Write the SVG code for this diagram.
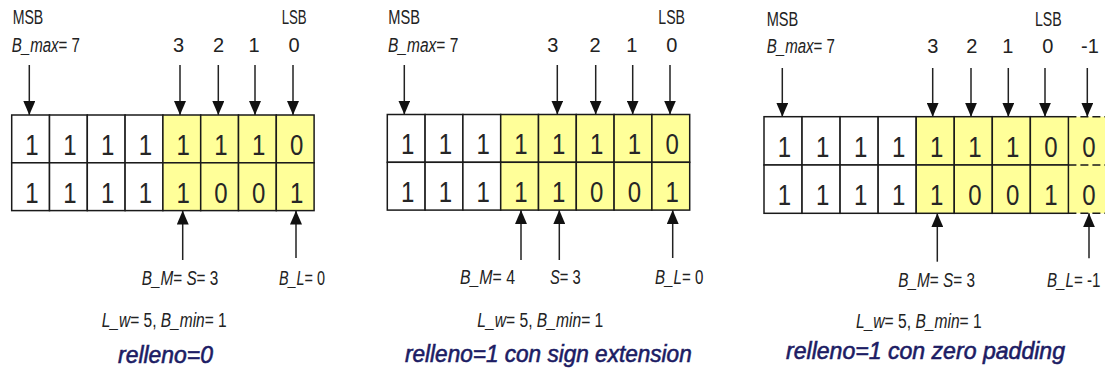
<svg xmlns="http://www.w3.org/2000/svg" width="1105" height="370" viewBox="0 0 1105 370">
  <style>
    .cell { fill: #ffffff; stroke: #1a1a1a; stroke-width: 1.5; }
    .hl { fill: #ffff99; stroke: #1a1a1a; stroke-width: 1.5; }
    .pad { fill: #ffff99; stroke: none; }
    .dash { stroke: #1a1a1a; stroke-width: 1.5; stroke-dasharray: 8 4; fill: none; }
    .bit { font-family: "Liberation Sans", Arial, sans-serif; font-size: 30px; fill: #262626; text-anchor: middle; }
    .lbl { font-family: "Liberation Sans", Arial, sans-serif; font-size: 20px; fill: #222; }
    .idx { font-family: "Liberation Sans", Arial, sans-serif; font-size: 20px; fill: #222; text-anchor: middle; }
    .it { font-style: italic; }
    .cap { font-family: "Liberation Sans", Arial, sans-serif; font-size: 24px; font-style: italic; fill: #1c1c64; stroke: #1c1c64; stroke-width: 0.6; }
    .arr { stroke: #222; stroke-width: 1.5; fill: none; marker-end: url(#head); }
  </style>
  <defs>
    <marker id="head" viewBox="0 0 14 12" refX="14" refY="6" markerWidth="14" markerHeight="12" markerUnits="userSpaceOnUse" orient="auto">
      <path d="M0,0 L14,6 L0,12 z" fill="#111"/>
    </marker>
  </defs>

  <!-- register 1: relleno=0 -->
  <g id="reg1">
    <rect class="cell" x="11.7" y="115" width="37.8" height="47.8"/>
    <rect class="cell" x="49.5" y="115" width="37.8" height="47.8"/>
    <rect class="cell" x="87.3" y="115" width="37.8" height="47.8"/>
    <rect class="cell" x="125.1" y="115" width="37.8" height="47.8"/>
    <rect class="hl" x="162.9" y="115" width="37.8" height="47.8"/>
    <rect class="hl" x="200.7" y="115" width="37.8" height="47.8"/>
    <rect class="hl" x="238.5" y="115" width="37.8" height="47.8"/>
    <rect class="hl" x="276.3" y="115" width="37.8" height="47.8"/>
    <rect class="cell" x="11.7" y="162.8" width="37.8" height="47.8"/>
    <rect class="cell" x="49.5" y="162.8" width="37.8" height="47.8"/>
    <rect class="cell" x="87.3" y="162.8" width="37.8" height="47.8"/>
    <rect class="cell" x="125.1" y="162.8" width="37.8" height="47.8"/>
    <rect class="hl" x="162.9" y="162.8" width="37.8" height="47.8"/>
    <rect class="hl" x="200.7" y="162.8" width="37.8" height="47.8"/>
    <rect class="hl" x="238.5" y="162.8" width="37.8" height="47.8"/>
    <rect class="hl" x="276.3" y="162.8" width="37.8" height="47.8"/>
    <!-- digits drawn in a horizontally condensed space (x values are divided by 0.8) -->
    <g transform="scale(0.8,1)">
      <text class="bit" y="155"><tspan x="40">1</tspan><tspan x="87.3">1</tspan><tspan x="134.5">1</tspan><tspan x="181.8">1</tspan><tspan x="229">1</tspan><tspan x="276.3">1</tspan><tspan x="323.5">1</tspan><tspan x="370.8">0</tspan></text>
      <text class="bit" y="203"><tspan x="40">1</tspan><tspan x="87.3">1</tspan><tspan x="134.5">1</tspan><tspan x="181.8">1</tspan><tspan x="229">1</tspan><tspan x="276.3">0</tspan><tspan x="323.5">0</tspan><tspan x="370.8">1</tspan></text>
    </g>
  </g>

  <!-- register 2: relleno=1, sign extension -->
  <g id="reg2">
    <rect class="cell" x="387.3" y="114.5" width="37.8" height="47.8"/>
    <rect class="cell" x="425.1" y="114.5" width="37.8" height="47.8"/>
    <rect class="cell" x="462.9" y="114.5" width="37.8" height="47.8"/>
    <rect class="hl" x="500.7" y="114.5" width="37.8" height="47.8"/>
    <rect class="hl" x="538.5" y="114.5" width="37.8" height="47.8"/>
    <rect class="hl" x="576.3" y="114.5" width="37.8" height="47.8"/>
    <rect class="hl" x="614.1" y="114.5" width="37.8" height="47.8"/>
    <rect class="hl" x="651.9" y="114.5" width="37.8" height="47.8"/>
    <rect class="cell" x="387.3" y="162.3" width="37.8" height="47.8"/>
    <rect class="cell" x="425.1" y="162.3" width="37.8" height="47.8"/>
    <rect class="cell" x="462.9" y="162.3" width="37.8" height="47.8"/>
    <rect class="hl" x="500.7" y="162.3" width="37.8" height="47.8"/>
    <rect class="hl" x="538.5" y="162.3" width="37.8" height="47.8"/>
    <rect class="hl" x="576.3" y="162.3" width="37.8" height="47.8"/>
    <rect class="hl" x="614.1" y="162.3" width="37.8" height="47.8"/>
    <rect class="hl" x="651.9" y="162.3" width="37.8" height="47.8"/>
    <g transform="scale(0.8,1)">
      <text class="bit" y="154.5"><tspan x="509.5">1</tspan><tspan x="556.8">1</tspan><tspan x="604">1</tspan><tspan x="651.3">1</tspan><tspan x="698.5">1</tspan><tspan x="745.8">1</tspan><tspan x="793">1</tspan><tspan x="840.3">0</tspan></text>
      <text class="bit" y="202.5"><tspan x="509.5">1</tspan><tspan x="556.8">1</tspan><tspan x="604">1</tspan><tspan x="651.3">1</tspan><tspan x="698.5">1</tspan><tspan x="745.8">0</tspan><tspan x="793">0</tspan><tspan x="840.3">1</tspan></text>
    </g>
  </g>

  <!-- register 3: relleno=1, zero padding (extra bit -1, open on the right) -->
  <g id="reg3">
    <rect class="pad" x="1068.4" y="116.7" width="40" height="96.6"/>
    <path class="dash" d="M1068.4,116.7 H1106 M1068.4,165 H1106 M1068.4,213.3 H1106"/>
    <rect class="cell" x="764" y="116.7" width="38.05" height="48.3"/>
    <rect class="cell" x="802.05" y="116.7" width="38.05" height="48.3"/>
    <rect class="cell" x="840.1" y="116.7" width="38.05" height="48.3"/>
    <rect class="cell" x="878.15" y="116.7" width="38.05" height="48.3"/>
    <rect class="hl" x="916.2" y="116.7" width="38.05" height="48.3"/>
    <rect class="hl" x="954.25" y="116.7" width="38.05" height="48.3"/>
    <rect class="hl" x="992.3" y="116.7" width="38.05" height="48.3"/>
    <rect class="hl" x="1030.35" y="116.7" width="38.05" height="48.3"/>
    <rect class="cell" x="764" y="165" width="38.05" height="48.3"/>
    <rect class="cell" x="802.05" y="165" width="38.05" height="48.3"/>
    <rect class="cell" x="840.1" y="165" width="38.05" height="48.3"/>
    <rect class="cell" x="878.15" y="165" width="38.05" height="48.3"/>
    <rect class="hl" x="916.2" y="165" width="38.05" height="48.3"/>
    <rect class="hl" x="954.25" y="165" width="38.05" height="48.3"/>
    <rect class="hl" x="992.3" y="165" width="38.05" height="48.3"/>
    <rect class="hl" x="1030.35" y="165" width="38.05" height="48.3"/>
    <g transform="scale(0.8,1)">
      <text class="bit" y="157"><tspan x="980.6">1</tspan><tspan x="1028.3">1</tspan><tspan x="1075.8">1</tspan><tspan x="1123.4">1</tspan><tspan x="1170.9">1</tspan><tspan x="1218.5">1</tspan><tspan x="1266">1</tspan><tspan x="1313.6">0</tspan><tspan x="1361.1">0</tspan></text>
      <text class="bit" y="205.3"><tspan x="980.6">1</tspan><tspan x="1028.3">1</tspan><tspan x="1075.8">1</tspan><tspan x="1123.4">1</tspan><tspan x="1170.9">1</tspan><tspan x="1218.5">0</tspan><tspan x="1266">0</tspan><tspan x="1313.6">1</tspan><tspan x="1361.1">0</tspan></text>
    </g>
  </g>

  <!-- bit pointers -->
  <g id="connectors">
    <line class="arr" x1="29.3" y1="65" x2="29.3" y2="115"/>
    <line class="arr" x1="180" y1="65" x2="180" y2="115"/>
    <line class="arr" x1="218.3" y1="65" x2="218.3" y2="115"/>
    <line class="arr" x1="255" y1="65" x2="255" y2="115"/>
    <line class="arr" x1="293" y1="65" x2="293" y2="115"/>
    <line class="arr" x1="182.7" y1="260" x2="182.7" y2="210.6"/>
    <line class="arr" x1="296" y1="258" x2="296" y2="210.6"/>

    <line class="arr" x1="404.3" y1="65" x2="404.3" y2="114.5"/>
    <line class="arr" x1="557.3" y1="65" x2="557.3" y2="114.5"/>
    <line class="arr" x1="595.7" y1="65" x2="595.7" y2="114.5"/>
    <line class="arr" x1="632.7" y1="65" x2="632.7" y2="114.5"/>
    <line class="arr" x1="670" y1="65" x2="670" y2="114.5"/>
    <line class="arr" x1="521" y1="260" x2="521" y2="210.1"/>
    <line class="arr" x1="559.3" y1="260" x2="559.3" y2="210.1"/>
    <line class="arr" x1="672.7" y1="258" x2="672.7" y2="210.1"/>

    <line class="arr" x1="782.3" y1="68" x2="782.3" y2="116.7"/>
    <line class="arr" x1="932.7" y1="68" x2="932.7" y2="116.7"/>
    <line class="arr" x1="971" y1="68" x2="971" y2="116.7"/>
    <line class="arr" x1="1008.3" y1="68" x2="1008.3" y2="116.7"/>
    <line class="arr" x1="1045" y1="68" x2="1045" y2="116.7"/>
    <line class="arr" x1="1087.3" y1="68" x2="1087.3" y2="116.7"/>
    <line class="arr" x1="937.3" y1="261.7" x2="937.3" y2="213.3"/>
    <line class="arr" x1="1089" y1="258.3" x2="1089" y2="213.3"/>
  </g>

  <!-- labels, register 1 -->
  <g id="labels1">
    <text class="lbl" x="12.7" y="24" textLength="30.6" lengthAdjust="spacingAndGlyphs">MSB</text>
    <text class="lbl" x="11.7" y="51.7" textLength="68.3" lengthAdjust="spacingAndGlyphs"><tspan class="it">B_max</tspan>= 7</text>
    <text class="lbl" x="281.7" y="24" textLength="25" lengthAdjust="spacingAndGlyphs">LSB</text>
    <text class="idx" y="51.7"><tspan x="178.5">3</tspan><tspan x="218.5">2</tspan><tspan x="254">1</tspan><tspan x="294">0</tspan></text>
    <text class="lbl" x="141.7" y="285" textLength="76.6" lengthAdjust="spacingAndGlyphs"><tspan class="it">B_M</tspan>= <tspan class="it">S</tspan>= 3</text>
    <text class="lbl" x="279" y="285" textLength="46" lengthAdjust="spacingAndGlyphs"><tspan class="it">B_L</tspan>= 0</text>
    <text class="lbl" x="101.7" y="327" textLength="125" lengthAdjust="spacingAndGlyphs"><tspan class="it">L_w</tspan>= 5, <tspan class="it">B_min</tspan>= 1</text>
    <text class="cap" x="118" y="363" textLength="95" lengthAdjust="spacingAndGlyphs">relleno=0</text>
  </g>

  <!-- labels, register 2 -->
  <g id="labels2">
    <text class="lbl" x="388.3" y="24" textLength="31.7" lengthAdjust="spacingAndGlyphs">MSB</text>
    <text class="lbl" x="388" y="51.7" textLength="70.3" lengthAdjust="spacingAndGlyphs"><tspan class="it">B_max</tspan>= 7</text>
    <text class="lbl" x="658.3" y="24" textLength="26.7" lengthAdjust="spacingAndGlyphs">LSB</text>
    <text class="idx" y="51.7"><tspan x="552.7">3</tspan><tspan x="595">2</tspan><tspan x="631.7">1</tspan><tspan x="671.7">0</tspan></text>
    <text class="lbl" x="460" y="284.3" textLength="55" lengthAdjust="spacingAndGlyphs"><tspan class="it">B_M</tspan>= 4</text>
    <text class="lbl" x="550" y="284.3" textLength="30.7" lengthAdjust="spacingAndGlyphs"><tspan class="it">S</tspan>= 3</text>
    <text class="lbl" x="655" y="284.3" textLength="48.3" lengthAdjust="spacingAndGlyphs"><tspan class="it">B_L</tspan>= 0</text>
    <text class="lbl" x="477.3" y="326.7" textLength="126" lengthAdjust="spacingAndGlyphs"><tspan class="it">L_w</tspan>= 5, <tspan class="it">B_min</tspan>= 1</text>
    <text class="cap" x="405" y="361.5" textLength="286.7" lengthAdjust="spacingAndGlyphs">relleno=1 con sign extension</text>
  </g>

  <!-- labels, register 3 -->
  <g id="labels3">
    <text class="lbl" x="766.7" y="26" textLength="31.6" lengthAdjust="spacingAndGlyphs">MSB</text>
    <text class="lbl" x="766.7" y="53" textLength="68.3" lengthAdjust="spacingAndGlyphs"><tspan class="it">B_max</tspan>= 7</text>
    <text class="lbl" x="1035" y="26" textLength="26.7" lengthAdjust="spacingAndGlyphs">LSB</text>
    <text class="idx" y="53"><tspan x="932.7">3</tspan><tspan x="971.7">2</tspan><tspan x="1007.7">1</tspan><tspan x="1047.7">0</tspan><tspan x="1090">-1</tspan></text>
    <text class="lbl" x="898.3" y="286.7" textLength="76.7" lengthAdjust="spacingAndGlyphs"><tspan class="it">B_M</tspan>= <tspan class="it">S</tspan>= 3</text>
    <text class="lbl" x="1047" y="286.7" textLength="53.4" lengthAdjust="spacingAndGlyphs"><tspan class="it">B_L</tspan>= -1</text>
    <text class="lbl" x="856" y="327.7" textLength="125.7" lengthAdjust="spacingAndGlyphs"><tspan class="it">L_w</tspan>= 5, <tspan class="it">B_min</tspan>= 1</text>
    <text class="cap" x="786" y="359" textLength="279" lengthAdjust="spacingAndGlyphs">relleno=1 con zero padding</text>
  </g>
</svg>
